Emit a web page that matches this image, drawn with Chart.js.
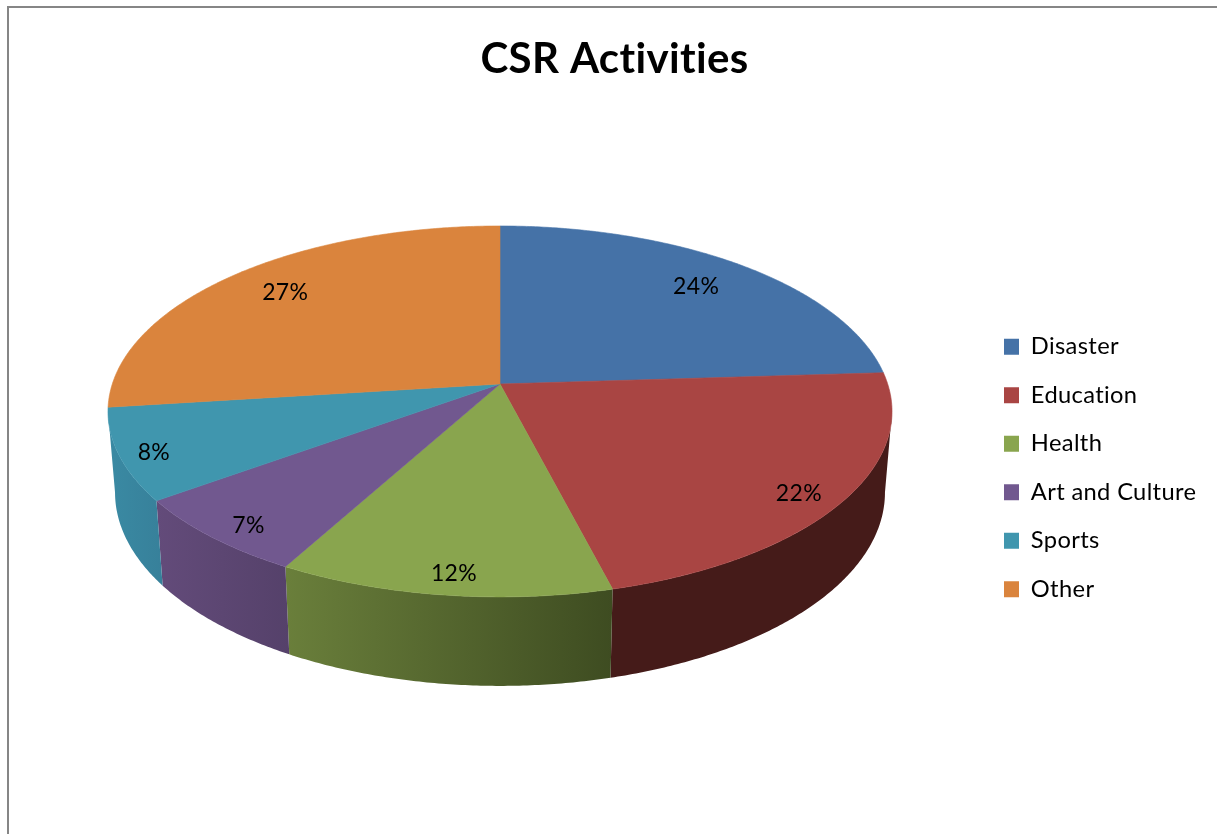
<!DOCTYPE html>
<html><head><meta charset="utf-8">
<style>html,body{margin:0;padding:0;background:#fff;overflow:hidden}canvas{display:block}</style>
<script src="https://cdn.jsdelivr.net/npm/chart.js@4"></script>
</head><body><canvas id="c" width="1217" height="834"></canvas>
<script>
const categories = ['Disaster','Education','Health','Art and Culture','Sports','Other'];
const shares = [24,22,12,7,8,27];
const tickLabels = ['24%','22%','12%','7%','8%','27%'];
const faceColors = ['#4572A7','#A94543','#89A54E','#71588F','#4096AE','#DA843D'];
const wallColorsFrom = ['#2a4565','#451b19','#6a7f3b','#634b7a','#3a8aa3','#84502a'];
const wallColorsTo   = ['#2a4565','#451b19','#3e4c21','#55416a','#37809a','#84502a'];
const labelRadius = [0.79,0.88,0.91,0.91,0.93,0.82];
const labelNudge = [[3,-1],[0,8],[5,1],[8,4],[7,3],[6,0]];

// perspective view of the flat pie disc
const CX=500, CY=384, BX=387.7, AY=181.4, K=-0.148;
const project=(a,r=1)=>{const u=r*Math.cos(a),v=r*Math.sin(a),d=1+K*v;return [CX+BX*u/d,CY+AY*v/d];};
const lower=(p)=>[CX+(p[0]-CX)*0.982, 492+1.043*(p[1]-411)];
const STEP=Math.PI/360;
const sweep=(a0,a1,fn)=>{const pts=[];const n=Math.max(1,Math.ceil((a1-a0)/STEP));for(let i=0;i<=n;i++){pts.push(fn(a0+(a1-a0)*i/n));}return pts;};

// slices are drawn from the angles that the library computed, through the perspective
Chart.ArcElement.prototype.draw=function(ctx){
  const {startAngle,endAngle}=this.getProps(['startAngle','endAngle']);
  const pts=sweep(startAngle,endAngle,project);
  ctx.save();
  ctx.beginPath();
  ctx.moveTo(CX,CY);
  pts.forEach(p=>ctx.lineTo(p[0],p[1]));
  ctx.closePath();
  ctx.fillStyle=this.options.backgroundColor;
  ctx.fill();
  ctx.strokeStyle=this.options.backgroundColor;
  ctx.lineWidth=0.6;
  ctx.stroke();
  ctx.restore();
};

const framePlugin={id:'frame',beforeDraw(chart){
  const c=chart.ctx;c.save();c.fillStyle='#fff';c.fillRect(0,0,chart.width,chart.height);
  c.fillStyle='#868686';c.fillRect(7,6,chart.width-7,2);c.fillRect(7,6,2,chart.height-6);c.restore();
  c.letterSpacing='0.35px';
}};
const legendPlace={id:'legendPlace',afterLayout(chart){
  const l=chart.legend;l.left=1004-l.options.labels.padding;l.top=310;
}};
const wallPlugin={id:'walls',beforeDatasetsDraw(chart){
  const c=chart.ctx, arcs=chart.getDatasetMeta(0).data;
  const lo=0.1486, hi=Math.PI-0.1486; // front of the rim, between the two silhouette points
  arcs.forEach((arc,i)=>{
    const a0=Math.max(arc.startAngle,lo), a1=Math.min(arc.endAngle,hi);
    if(a1<=a0) return;
    const top=sweep(a0,a1,project), bot=top.map(lower).reverse();
    const xs=top.concat(bot).map(p=>p[0]);
    const g=c.createLinearGradient(Math.min(...xs),0,Math.max(...xs),0);
    g.addColorStop(0,wallColorsFrom[i]);g.addColorStop(1,wallColorsTo[i]);
    c.save();c.beginPath();
    top.concat(bot).forEach((p,j)=>j?c.lineTo(p[0],p[1]):c.moveTo(p[0],p[1]));
    c.closePath();c.fillStyle=g;c.fill();c.restore();
  });
}};
const labelPlugin={id:'pct',afterDatasetsDraw(chart){
  const c=chart.ctx;
  c.save();c.fillStyle='#000';c.font='23px Lato';c.textAlign='center';c.textBaseline='middle';
  chart.getDatasetMeta(0).data.forEach((arc,i)=>{
    const p=project((arc.startAngle+arc.endAngle)/2,labelRadius[i]);
    c.fillText(tickLabels[i],p[0]+labelNudge[i][0],p[1]+labelNudge[i][1]);
  });
  c.restore();
}};

new Chart(document.getElementById('c'),{
  type:'pie',
  data:{labels:categories,datasets:[{data:shares,backgroundColor:faceColors,borderWidth:0}]},
  options:{
    responsive:false,animation:false,
    layout:{padding:{left:12}},
    plugins:{
      tooltip:{enabled:false},
      title:{display:true,text:'CSR Activities',color:'#000',font:{family:'Lato',weight:'bold',size:42},padding:{top:34,bottom:10}},
      legend:{position:'right',align:'start',labels:{font:{family:'Lato',size:23.7},color:'#000',boxWidth:15,boxHeight:16,padding:24.8}}
    }
  },
  plugins:[framePlugin,legendPlace,wallPlugin,labelPlugin]
});
</script></body></html>
